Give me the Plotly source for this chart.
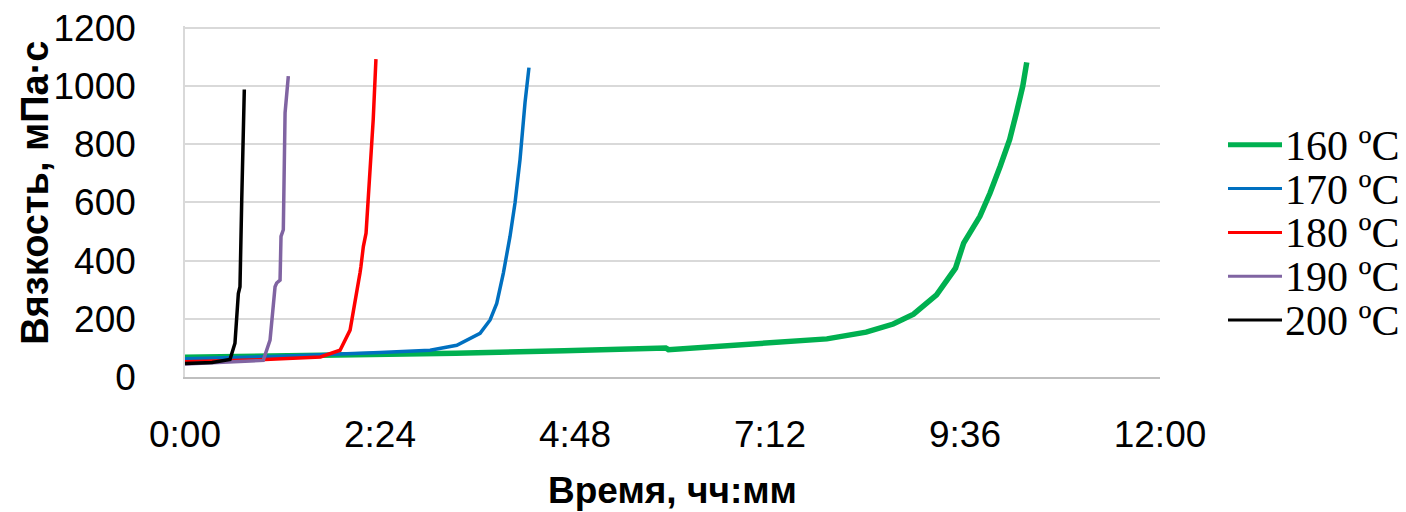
import plotly.graph_objects as go

# ---- data (time in minutes, viscosity in mPa·s) ----
t160 = [0, 100, 200, 280, 355, 357, 425, 474, 503, 523, 538, 555, 569, 575, 587, 594.5, 602, 609, 614, 618.7, 621.6]
v160 = [68, 73, 82, 90, 100, 94, 113, 131, 154, 182, 216, 282, 374, 460, 552, 632, 724, 816, 908, 1000, 1081]

t170 = [0, 60, 144, 181, 200.7, 217.9, 225.3, 230.2, 235.1, 240, 243.7, 247.4, 251.1, 254]
v170 = [63, 70, 84, 92, 109, 150, 196, 253, 357, 483, 598, 747, 943, 1063]

t180 = [0, 50, 100, 114.5, 121.9, 125.6, 129.2, 129.9, 131.7, 133.7, 136.6, 139, 141]
v180 = [52, 58, 69, 92, 161, 254, 357, 379, 448, 494, 713, 885, 1092]

t190 = [0, 30, 57.8, 62.8, 66.5, 67.7, 70.2, 70.9, 72.6, 73.9, 76.3]
v190 = [45, 50, 57, 127, 310, 323, 333, 483, 506, 908, 1034]

t200 = [0, 20, 33.2, 36.9, 39.4, 40.6, 41.9, 43.8]
v200 = [46, 50, 60, 116, 287, 310, 609, 988]

names = ["160 ºC", "170 ºC", "180 ºC", "190 ºC", "200 ºC"]
colors = ["#00b050", "#0070c0", "#ff0000", "#8064a2", "#000000"]
widths = [5.5, 3.5, 3.5, 3.5, 3.5]
series = [(t160, v160), (t170, v170), (t180, v180), (t190, v190), (t200, v200)]

tickvals = [0, 144, 288, 432, 576, 720]
ticktext = ["0:00", "2:24", "4:48", "7:12", "9:36", "12:00"]

fig = go.Figure()
for (t, v), n, c, w in zip(series, names, colors, widths):
    fig.add_trace(go.Scatter(x=t, y=v, mode="lines", name=n,
                             line=dict(color=c, width=w), showlegend=False))

# ---- layout geometry (page has an 8px body margin) ----
O = 8
YMAX = 1206
W, H = 1406 - O, 512 - O
top_page = 377 - (377 - 28) * YMAX / 1200
L, T = 185 - O, top_page - O
R = W - (1160 - O)
B = H - (377 - O)
pw, ph = W - L - R, H - T - B
def px(xp): return (xp - O - L) / pw
def py(yp): return (H - B - (yp - O)) / ph

# ---- manual legend (Excel-like) ----
leg_w = [5, 3, 3, 3, 3]
for i, (n, c) in enumerate(zip(names, colors)):
    yc = 145 + i * 43.75
    fig.add_shape(type="line", xref="paper", yref="paper",
                  x0=px(1228), x1=px(1282), y0=py(yc), y1=py(yc),
                  line=dict(color=c, width=leg_w[i]))
    fig.add_annotation(xref="paper", yref="paper", x=px(1283), y=py(yc + 1),
                       text=n, showarrow=False, xanchor="left", yanchor="middle",
                       font=dict(family="Liberation Serif", size=42, color="black"))

# ---- axis titles ----
fig.add_annotation(xref="paper", yref="paper", x=px(672), y=py(490),
                   text="<b>Время, чч:мм</b>", showarrow=False,
                   xanchor="center", yanchor="middle",
                   font=dict(family="Liberation Sans", size=37, color="black"))
fig.add_annotation(xref="paper", yref="paper", x=px(35), y=py(193),
                   text="<b>Вязкость, мПа·с</b>", showarrow=False, textangle=-90,
                   xanchor="center", yanchor="middle",
                   font=dict(family="Liberation Sans", size=38, color="black"))

fig.update_layout(
    width=W, height=H,
    margin=dict(l=L, r=R, t=T, b=B, autoexpand=False),
    paper_bgcolor="white", plot_bgcolor="white",
    font=dict(family="Liberation Sans", color="black"),
)
fig.update_xaxes(range=[0, 720], tickvals=tickvals, ticktext=ticktext,
                 tickfont=dict(size=37, color="black"), ticklabelstandoff=24,
                 ticklabeloverflow="allow",
                 showgrid=False, zeroline=False, automargin=False,
                 showline=True, linecolor="#bfbfbf", linewidth=1.5)
fig.update_yaxes(range=[0, YMAX], tickvals=[0, 200, 400, 600, 800, 1000, 1200],
                 tickfont=dict(size=37, color="black"),
                 ticklabelstandoff=40, automargin=False, ticklabeloverflow="allow",
                 showgrid=True, gridcolor="#d9d9d9", gridwidth=1.5, zeroline=False,
                 showline=True, linecolor="#d9d9d9", linewidth=1.5)

fig.write_html("out.html")
